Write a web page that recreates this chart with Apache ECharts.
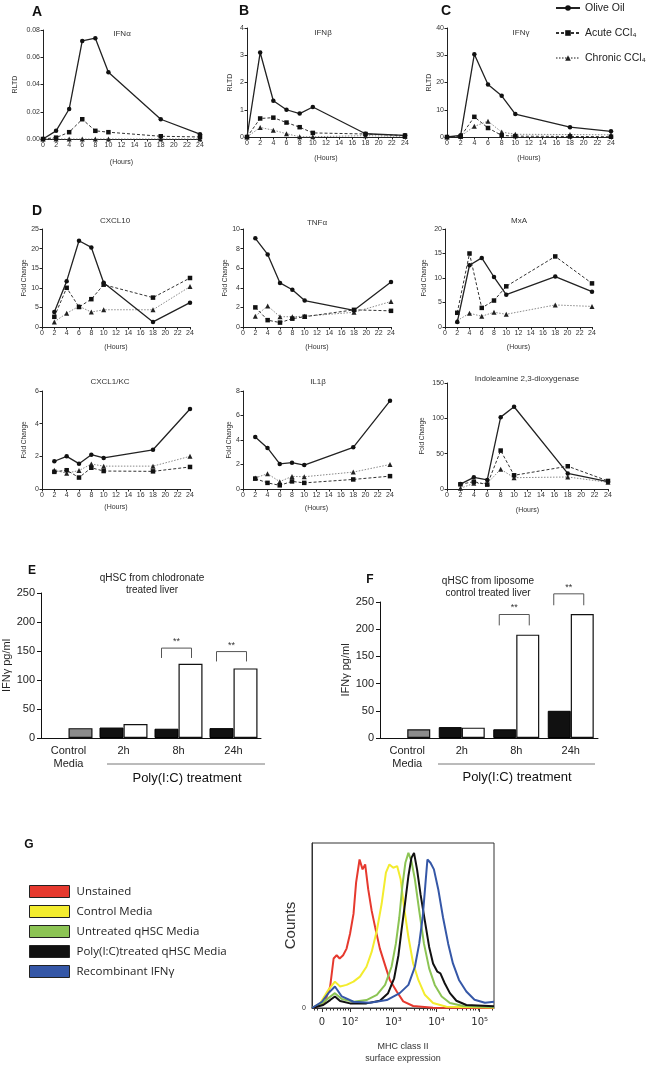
<!DOCTYPE html>
<html><head><meta charset="utf-8">
<script src="https://cdn.jsdelivr.net/npm/echarts@6.0.0/dist/echarts.min.js"></script>
<style>html,body{margin:0;padding:0;background:#fff}#c{width:650px;height:1067px}</style>
</head><body><div id="c"></div>
<script>
// ---------- DATA ----------
const hoursA = [0, 2, 4, 6, 8, 10, 18, 24];
const hoursD = [2, 4, 6, 8, 10, 18, 24];
const seriesNames = ['Olive Oil', 'Acute CCl₄', 'Chronic CCl₄'];
const panelTitles = ['IFNα', 'IFNβ', 'IFNγ', 'CXCL10', 'TNFα', 'MxA', 'CXCL1/KC', 'IL1β', 'Indoleamine 2,3-dioxygenase'];

const ifnaOlive = [0, 0.006, 0.022, 0.072, 0.074, 0.049, 0.0145, 0.0035];
const ifnaAcute = [0, 0.001, 0.005, 0.0145, 0.006, 0.005, 0.002, 0.0015];
const ifnaChronic = [0, 0, 0, 0, 0, 0, 0, 0];

const ifnbOlive = [0, 3.1, 1.33, 1.0, 0.86, 1.1, 0.12, 0.06];
const ifnbAcute = [0, 0.68, 0.71, 0.53, 0.36, 0.15, 0.11, 0.05];
const ifnbChronic = [0, 0.35, 0.25, 0.12, 0.01, 0.01, 0.05, 0.02];

const ifngOlive = [0, 0.6, 30.4, 19.3, 15.1, 8.4, 3.6, 2.1];
const ifngAcute = [0, 0.2, 7.4, 3.3, 0.6, 0.3, 0.2, 0.1];
const ifngChronic = [0, 0.3, 3.9, 5.8, 1.8, 1.0, 0.9, 0.8];

const cxcl10Olive = [3.8, 11.7, 22.0, 20.3, 11.3, 1.3, 6.2];
const cxcl10Acute = [2.6, 10.0, 5.1, 7.1, 10.8, 7.5, 12.5];
const cxcl10Chronic = [1.3, 3.5, 5.3, 3.8, 4.4, 4.4, 10.3];

const tnfOlive = [9.05, 7.4, 4.5, 3.8, 2.7, 1.7, 4.6];
const tnfAcute = [2.0, 0.7, 0.45, 0.85, 1.05, 1.75, 1.65];
const tnfChronic = [1.1, 2.15, 1.05, 1.05, 1.1, 1.5, 2.6];

const mxaOlive = [1.0, 12.6, 14.1, 10.2, 6.6, 10.3, 7.2];
const mxaAcute = [2.9, 15.0, 3.9, 5.4, 8.3, 14.4, 8.9];
const mxaChronic = [1.3, 2.8, 2.2, 3.0, 2.6, 4.5, 4.2];

const cxcl1Olive = [1.7, 2.0, 1.55, 2.1, 1.9, 2.4, 4.9];
const cxcl1Acute = [1.05, 1.15, 0.7, 1.3, 1.1, 1.08, 1.35];
const cxcl1Chronic = [1.15, 0.97, 1.13, 1.53, 1.4, 1.4, 2.0];

const il1bOlive = [4.25, 3.35, 2.05, 2.15, 1.95, 3.4, 7.2];
const il1bAcute = [0.85, 0.5, 0.3, 0.62, 0.5, 0.78, 1.05];
const il1bChronic = [0.9, 1.25, 0.6, 1.03, 1.0, 1.38, 2.0];

const idoOlive = [7, 16.5, 12.8, 101.7, 116.4, 22, 10.4];
const idoAcute = [6.6, 10.4, 6.2, 54.4, 19.4, 32.2, 11.4];
const idoChronic = [1, 8, 8, 28, 16, 17, 9.5];

// Bar panels E and F (first white slot = control media, drawn grey)
const barCategories = ['Control\nMedia', '2h', '8h', '24h'];
const eBlackBars = [null, 18, 16, 17];
const eWhiteBars = [17, 24, 128, 120];
const fBlackBars = [null, 20, 16, 50];
const fWhiteBars = [16, 19, 190, 228];
// significance brackets: [category index, top value, bottom value]
const eBrackets = [[2, 155, 138], [3, 149, 132]];
const fBrackets = [[2, 227, 207], [3, 265, 244]];

// Panel G histogram: [position in decades, % of max counts]
const histNames = ['Unstained', 'Control Media', 'Untreated qHSC Media', 'Poly(I:C)treated qHSC Media', 'Recombinant IFNγ'];
const histTickLabels = ['0', '10²', '10³', '10⁴', '10⁵'];
const histTickValues = [1.35, 2, 3, 4, 5];
const unstainedHist = [[1.12,0],[1.27,1.2],[1.42,3.8],[1.54,13],[1.62,30],[1.69,32],[1.76,30],[1.84,32],[1.92,36],[2.0,45],[2.08,57],[2.14,76],[2.22,90],[2.29,84],[2.35,87],[2.42,72],[2.5,59],[2.58,49],[2.69,36],[2.81,26],[2.92,17],[3.08,10],[3.23,4],[3.46,1.2],[3.92,0.2],[5.33,0]];
const controlHist = [[1.12,0],[1.31,2.8],[1.5,11],[1.65,16],[1.77,13],[1.92,14],[2.08,16],[2.23,19],[2.38,25],[2.5,34],[2.62,47],[2.73,63],[2.83,82],[2.91,87],[3.0,85],[3.09,86],[3.17,78],[3.25,61],[3.35,43],[3.46,27],[3.58,17],[3.73,8],[3.92,3],[4.23,0.8],[5.33,0.3]];
const untreatedHist = [[1.12,0],[1.35,2.8],[1.5,6],[1.65,9],[1.81,5.5],[2.08,3.8],[2.38,4.8],[2.62,8],[2.81,14],[2.96,25],[3.06,39],[3.14,55],[3.21,74],[3.28,88],[3.35,94],[3.42,89],[3.5,78],[3.6,59],[3.71,39],[3.83,24],[3.96,14],[4.12,7],[4.31,3],[4.62,1.2],[5.33,0.5]];
const polyICHist = [[1.12,0],[1.38,1.8],[1.54,4.8],[1.65,7],[1.77,4.2],[2.0,2.8],[2.38,2.8],[2.69,4.4],[2.88,9],[3.02,18],[3.12,32],[3.19,47],[3.27,63],[3.35,80],[3.42,91],[3.48,94],[3.55,84],[3.63,69],[3.73,53],[3.83,37],[3.92,27],[4.02,22],[4.09,21],[4.19,15],[4.31,9],[4.46,4.4],[4.69,1.8],[5.33,1]];
const ifngHist = [[1.12,0],[1.35,3.8],[1.5,9],[1.65,13],[1.81,7],[2.08,3.8],[2.46,3.2],[2.85,4.8],[3.15,9],[3.35,14],[3.5,25],[3.6,39],[3.68,55],[3.74,74],[3.79,90],[3.86,88],[3.94,84],[4.04,72],[4.15,55],[4.27,39],[4.38,27],[4.52,17],[4.69,10],[4.88,5],[5.12,3.2],[5.33,3.8]];

// ---------- LAYOUT / STYLE ----------
const FONT = '"Liberation Sans", Arial, Helvetica, sans-serif';
const panelData = [
  [hoursA, ifnaOlive, ifnaAcute, ifnaChronic],
  [hoursA, ifnbOlive, ifnbAcute, ifnbChronic],
  [hoursA, ifngOlive, ifngAcute, ifngChronic],
  [hoursD, cxcl10Olive, cxcl10Acute, cxcl10Chronic],
  [hoursD, tnfOlive, tnfAcute, tnfChronic],
  [hoursD, mxaOlive, mxaAcute, mxaChronic],
  [hoursD, cxcl1Olive, cxcl1Acute, cxcl1Chronic],
  [hoursD, il1bOlive, il1bAcute, il1bChronic],
  [hoursD, idoOlive, idoAcute, idoChronic]
];
const layouts = [
  {l:43, t:30, w:157, h:109, max:0.08, step:0.02, dec:2, yName:'RLTD', yGap:24, xGap:20, tx:122, ty:34},
  {l:247, t:28, w:158, h:109, max:4, step:1, dec:0, yName:'RLTD', yGap:13, xGap:18, tx:323, ty:33},
  {l:447, t:28, w:164, h:109, max:40, step:10, dec:0, yName:'RLTD', yGap:13, xGap:18, tx:521, ty:33},
  {l:42, t:229, w:148, h:98, max:25, step:5, dec:0, yName:'Fold Change', yGap:14, xGap:17, tx:115, ty:221},
  {l:243, t:229, w:148, h:98, max:10, step:2, dec:0, yName:'Fold Change', yGap:12, xGap:17, tx:317, ty:223},
  {l:445, t:229, w:147, h:98, max:20, step:5, dec:0, yName:'Fold Change', yGap:17, xGap:17, tx:519, ty:221},
  {l:42, t:391, w:148, h:98, max:6, step:2, dec:0, yName:'Fold Change', yGap:14, xGap:15, tx:110, ty:382},
  {l:243, t:391, w:147, h:98, max:8, step:2, dec:0, yName:'Fold Change', yGap:9, xGap:16, tx:318, ty:382},
  {l:447, t:383, w:161, h:106, max:150, step:50, dec:0, yName:'Fold Change', yGap:21, xGap:18, tx:527, ty:379}
];
const lineStyles = [
  {symbol:'circle', symbolSize:4.5, lineStyle:{color:'#222', width:1.3, type:'solid'}, itemStyle:{color:'#111'}},
  {symbol:'rect', symbolSize:4.5, lineStyle:{color:'#333', width:1, type:[3,2]}, itemStyle:{color:'#111'}},
  {symbol:'triangle', symbolSize:5, lineStyle:{color:'#8a8a8a', width:1, type:[1.5,1.5]}, itemStyle:{color:'#222'}}
];
const histColors = ['#e6392e', '#f3ec2e', '#8cc454', '#111111', '#3557a7'];

const grid = [], xAxis = [], yAxis = [], series = [], graphic = [];

layouts.forEach((L, i) => {
  grid.push({left:L.l, top:L.t, width:L.w, height:L.h});
  xAxis.push({type:'value', gridIndex:i, min:0, max:24, interval:2, splitLine:{show:false},
    axisLine:{lineStyle:{color:'#222', width:1}}, axisTick:{length:2.5, lineStyle:{color:'#222'}},
    axisLabel:{fontSize:7, color:'#333', margin:3, fontFamily:FONT},
    name:'(Hours)', nameLocation:'middle', nameGap:L.xGap,
    nameTextStyle:{fontSize:7, color:'#333', fontFamily:FONT}});
  yAxis.push({type:'value', gridIndex:i, min:0, max:L.max, interval:L.step, splitLine:{show:false},
    axisLine:{show:true, lineStyle:{color:'#222'}}, axisTick:{show:true, length:2.5, lineStyle:{color:'#222'}},
    axisLabel:{fontSize:7, color:'#333', margin:3, fontFamily:FONT, formatter: v => Number(v).toFixed(L.dec)},
    name:L.yName, nameLocation:'middle', nameGap:L.yGap,
    nameTextStyle:{fontSize: L.yName === 'RLTD' ? 7 : 6.5, color:'#333', fontFamily:FONT}});
  const xs = panelData[i][0];
  for (let k = 0; k < 3; k++) {
    const vals = panelData[i][k + 1];
    series.push(Object.assign({type:'line', name:seriesNames[k], xAxisIndex:i, yAxisIndex:i,
      data: xs.map((x, j) => [x, vals[j]]), z: 5 - k, animation:false}, lineStyles[k]));
  }
  graphic.push({type:'text', x:L.tx, y:L.ty, style:{text:panelTitles[i], font:'8px ' + FONT, fill:'#333', align:'center', verticalAlign:'middle'}});
});

// E and F bar panels
function barPanel(gi, g, black, white, brackets, yGap) {
  grid.push(g);
  xAxis.push({type:'category', gridIndex:gi, data:barCategories, axisTick:{show:false},
    axisLine:{lineStyle:{color:'#111'}},
    axisLabel:{fontSize:11, color:'#222', lineHeight:13, margin:6, interval:0, fontFamily:FONT}});
  yAxis.push({type:'value', gridIndex:gi, min:0, max:250, interval:50, splitLine:{show:false},
    axisLine:{show:true, lineStyle:{color:'#111'}}, axisTick:{show:true, length:4, lineStyle:{color:'#111'}},
    axisLabel:{fontSize:11, color:'#222', margin:6, fontFamily:FONT},
    name:'IFNγ pg/ml', nameLocation:'middle', nameGap:yGap,
    nameTextStyle:{fontSize:11, color:'#222', fontFamily:FONT}});
  const bw = g.width > 219 ? 24 : 23;
  series.push({type:'bar', name:'black' + gi, xAxisIndex:gi, yAxisIndex:gi, data:black, barWidth:bw, barGap:'0%',
    itemStyle:{color:'#111', borderColor:'#000', borderWidth:1}, animation:false});
  series.push({type:'bar', name:'white' + gi, xAxisIndex:gi, yAxisIndex:gi, barWidth:bw, barGap:'0%',
    data: white.map((v, i) => i === 0 ? {value:v, itemStyle:{color:'#8c8c8c'}} : v),
    itemStyle:{color:'#fff', borderColor:'#111', borderWidth:1.2}, animation:false});
  series.push({type:'custom', xAxisIndex:gi, yAxisIndex:gi, data:brackets, clip:false, z:6, animation:false,
    renderItem(params, api) {
      const c = api.value(0), top = api.value(1), bot = api.value(2);
      const pT = api.coord([c, top]), pB = api.coord([c, bot]);
      const x1 = pT[0] - 17, x2 = pT[0] + 13;
      return {type:'group', children:[
        {type:'polyline', shape:{points:[[x1, pB[1]], [x1, pT[1]], [x2, pT[1]], [x2, pB[1]]]},
          style:{stroke:'#555', lineWidth:1, fill:null}},
        {type:'text', style:{text:'**', x:(x1 + x2) / 2, y:pT[1] - 2, align:'center', verticalAlign:'bottom',
          font:'9px ' + FONT, fill:'#333'}}
      ]};
    }});
}
barPanel(9, {left:41, top:593, width:220, height:145}, eBlackBars, eWhiteBars, eBrackets, 27);
barPanel(10, {left:380, top:602, width:218, height:136}, fBlackBars, fWhiteBars, fBrackets, 20);

// G histogram
grid.push({left:312, top:843, width:182, height:165, show:true, borderColor:'#333', borderWidth:1, backgroundColor:'transparent'});
const minorTicks = [];
[2, 3, 4].forEach(n => { for (let k = 2; k <= 9; k++) minorTicks.push(n + Math.log10(k)); });
minorTicks.push(5 + Math.log10(2));
[1.17, 1.24, 1.45, 1.55, 1.62, 1.7, 1.77, 1.84, 1.9, 1.95].forEach(v => minorTicks.push(v));
xAxis.push({type:'value', gridIndex:11, position:'bottom', min:1.12, max:5.33, splitLine:{show:false},
  axisLine:{show:true, lineStyle:{color:'#333'}},
  axisTick:{show:true, length:4, customValues:histTickValues, lineStyle:{color:'#333'}},
  axisLabel:{customValues:histTickValues, fontSize:10, color:'#333', margin:9, fontFamily:'"DejaVu Sans", sans-serif',
    formatter: v => { const i = histTickValues.findIndex(t => Math.abs(t - v) < 1e-6); return i >= 0 ? histTickLabels[i] : ''; }},
  name:'MHC class II\nsurface expression', nameLocation:'middle', nameGap:33,
  nameTextStyle:{fontSize:9, color:'#333', lineHeight:12, fontFamily:FONT}});
xAxis.push({type:'value', gridIndex:11, position:'bottom', offset:0, min:1.12, max:5.33, splitLine:{show:false},
  axisLine:{show:false}, axisLabel:{show:false},
  axisTick:{show:true, length:2.5, customValues:minorTicks, lineStyle:{color:'#333'}}});
yAxis.push({type:'value', gridIndex:11, min:0, max:100, splitLine:{show:false},
  axisLine:{show:true, lineStyle:{color:'#333'}}, axisTick:{show:false},
  axisLabel:{customValues:[0], fontSize:7, color:'#333', margin:6, fontFamily:FONT},
  name:'Counts', nameLocation:'middle', nameGap:12,
  nameTextStyle:{fontSize:15, color:'#333', fontFamily:FONT}});
[unstainedHist, controlHist, untreatedHist, polyICHist, ifngHist].forEach((d, k) => {
  series.push({type:'line', name:histNames[k], xAxisIndex:11, yAxisIndex:11, data:d, symbol:'none', showSymbol:false,
    color:histColors[k], lineStyle:{width:2, color:histColors[k]}, itemStyle:{color:histColors[k]}, z:2, animation:false});
});

// free text
const letters = [['A',37,12,14],['B',244,11,14],['C',446,11,14],['D',37,211,14],['E',32,571,12],['F',370,580,12],['G',29,845,12]];
letters.forEach(([t, x, y, s]) => graphic.push({type:'text', x, y, style:{text:t, font:'bold ' + s + 'px ' + FONT, fill:'#111', align:'center', verticalAlign:'middle'}}));
graphic.push({type:'text', x:152, y:584, style:{text:'qHSC from chlodronate\ntreated liver', font:'10px ' + FONT, lineHeight:12, fill:'#222', align:'center', verticalAlign:'middle'}});
graphic.push({type:'text', x:488, y:587, style:{text:'qHSC from liposome\ncontrol treated liver', font:'10px ' + FONT, lineHeight:12, fill:'#222', align:'center', verticalAlign:'middle'}});
graphic.push({type:'line', shape:{x1:107, y1:764, x2:265, y2:764}, style:{stroke:'#777', lineWidth:1}});
graphic.push({type:'line', shape:{x1:438, y1:764, x2:595, y2:764}, style:{stroke:'#777', lineWidth:1}});
graphic.push({type:'text', x:187, y:778, style:{text:'Poly(I:C) treatment', font:'13px ' + FONT, fill:'#111', align:'center', verticalAlign:'middle'}});
graphic.push({type:'text', x:517, y:777, style:{text:'Poly(I:C) treatment', font:'13px ' + FONT, fill:'#111', align:'center', verticalAlign:'middle'}});

const option = {
  animation:false,
  backgroundColor:'#fff',
  textStyle:{fontFamily:FONT},
  grid, xAxis, yAxis, series, graphic,
  legend:[
    {data:seriesNames, left:555, top:2, padding:0, orient:'vertical', itemWidth:24, itemHeight:7, itemGap:13,
      textStyle:{fontSize:10.5, color:'#222', lineHeight:12, fontFamily:FONT}},
    {data:histNames.map(n => ({name:n, icon:'rect'})), left:29, top:885, padding:0, orient:'vertical',
      itemWidth:40, itemHeight:12, itemGap:7,
      itemStyle:{borderColor:'#222', borderWidth:1},
      textStyle:{fontSize:11.5, color:'#222', lineHeight:12, padding:[0,0,0,2],
        fontFamily:'"Open Sans", sans-serif'}}
  ]
};
const chart = echarts.init(document.getElementById('c'));
chart.setOption(option);
</script></body></html>
